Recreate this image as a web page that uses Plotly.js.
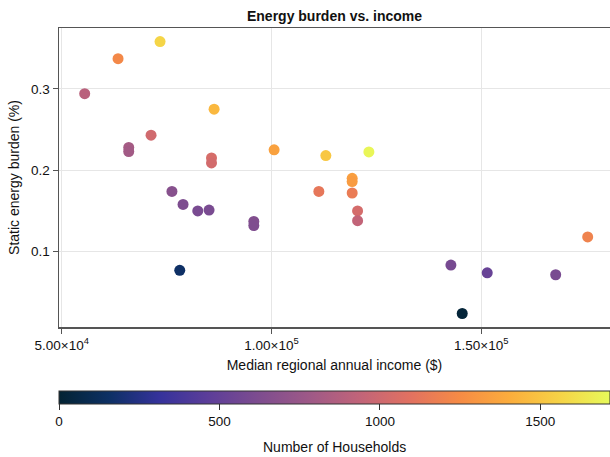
<!DOCTYPE html>
<html>
<head>
<meta charset="utf-8">
<script src="https://cdn.plot.ly/plotly-3.0.1.min.js"></script>
<style>html,body{margin:0;padding:0;background:#fff;overflow:hidden}</style>
</head>
<body>
<div id="chart" style="width:610px;height:457px"></div>
<script>
// Median regional annual income ($)
var income = [55460, 63410, 73425, 86310, 71280, 65960, 65960, 85690, 85690, 100620,
              76260, 78910, 82420, 85110, 95780, 95780, 78120, 112950, 123210, 119230,
              119230, 111280, 119230, 120520, 120520, 175380, 142770, 151430, 167750, 145470];
// Static energy burden (%)
var burden = [0.294, 0.337, 0.358, 0.275, 0.243, 0.228, 0.223, 0.215, 0.209, 0.225,
              0.174, 0.158, 0.150, 0.151, 0.137, 0.132, 0.077, 0.218, 0.2225, 0.190,
              0.186, 0.174, 0.172, 0.150, 0.138, 0.118, 0.0835, 0.074, 0.0716, 0.024];
// Number of households
var households = [900, 1230, 1570, 1450, 1010, 810, 800, 1040, 1020, 1350,
                  670, 620, 600, 600, 640, 630, 160, 1510, 1700, 1340,
                  1320, 1130, 1160, 1030, 940, 1200, 590, 520, 600, 20];

var xTickVals = [50000, 100000, 150000];
var xTickText = ["5.00×10<sup>4</sup>", "1.00×10<sup>5</sup>", "1.50×10<sup>5</sup>"];
var yTickVals = [0.1, 0.2, 0.3];
var yTickText = ["0.1", "0.2", "0.3"];
var cbTickVals = [0, 500, 1000, 1500];

var thermal = ['rgb(3, 35, 51)', 'rgb(13, 48, 100)', 'rgb(53, 50, 155)', 'rgb(93, 62, 153)',
  'rgb(126, 77, 143)', 'rgb(158, 89, 135)', 'rgb(193, 100, 121)', 'rgb(225, 113, 97)',
  'rgb(246, 139, 69)', 'rgb(251, 173, 60)', 'rgb(246, 211, 70)', 'rgb(231, 250, 90)'];
var colorscale = thermal.map(function (c, i) { return [i / (thermal.length - 1), c]; });

var font = "Liberation Sans, Arial, sans-serif";
var tickSize = 13.5, titleSize = 14;

var trace = {
  type: 'scatter',
  mode: 'markers',
  x: income,
  y: burden,
  marker: {
    size: 11,
    color: households,
    colorscale: colorscale,
    cmin: 0,
    cmax: 1717,
    line: {width: 0},
    colorbar: {
      orientation: 'h',
      x: 0, xanchor: 'left', xref: 'paper',
      y: -0.214, yanchor: 'top', yref: 'paper',
      len: 1, lenmode: 'fraction',
      thickness: 13,
      xpad: 0, ypad: 0,
      outlinewidth: 1,
      outlinecolor: '#333',
      tickmode: 'array',
      tickvals: cbTickVals,
      ticks: 'outside',
      ticklen: 6,
      tickcolor: '#333',
      tickfont: {family: font, size: tickSize, color: '#111'},
      title: {text: ''}
    }
  },
  hoverinfo: 'x+y'
};

var layout = {
  width: 610,
  height: 457,
  margin: {l: 59, r: 0, t: 28, b: 130},
  paper_bgcolor: '#fff',
  plot_bgcolor: '#fff',
  showlegend: false,
  title: {
    text: '<b>Energy burden vs. income</b>',
    font: {family: font, size: titleSize, color: '#111'},
    x: 0.5, xref: 'paper', xanchor: 'center',
    y: 1 - 16 / 457, yref: 'container', yanchor: 'middle'
  },
  annotations: [{
    text: 'Number of Households',
    xref: 'paper', x: 0.5, xanchor: 'center',
    yref: 'paper', y: -0.4, yanchor: 'middle',
    showarrow: false,
    font: {family: font, size: titleSize, color: '#111'}
  }],
  xaxis: {
    range: [49332, 180700],
    tickmode: 'array',
    tickvals: xTickVals,
    ticktext: xTickText,
    ticks: 'outside',
    ticklen: 5,
    tickcolor: '#555',
    showline: true,
    linecolor: '#555',
    linewidth: 1.5,
    mirror: true,
    showgrid: true,
    gridcolor: '#e6e6e6',
    gridwidth: 1,
    zeroline: false,
    tickfont: {family: font, size: tickSize, color: '#111'},
    title: {text: 'Median regional annual income ($)', font: {family: font, size: titleSize, color: '#111'}, standoff: 8}
  },
  yaxis: {
    range: [0.0074, 0.3747],
    tickmode: 'array',
    tickvals: yTickVals,
    ticktext: yTickText,
    ticks: 'outside',
    ticklen: 5,
    tickcolor: '#555',
    showline: true,
    linecolor: '#555',
    linewidth: 1.5,
    mirror: false,
    showgrid: true,
    gridcolor: '#e6e6e6',
    gridwidth: 1,
    zeroline: false,
    tickfont: {family: font, size: tickSize, color: '#111'},
    title: {text: 'Static energy burden (%)', font: {family: font, size: titleSize, color: '#111'}, standoff: 8}
  }
};

Plotly.newPlot('chart', [trace], layout, {displayModeBar: false, staticPlot: true});
</script>
</body>
</html>
